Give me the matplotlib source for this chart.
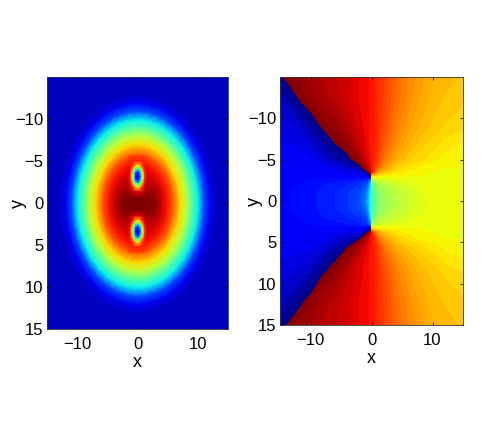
import numpy as np
import matplotlib
matplotlib.use("Agg")
import matplotlib.pyplot as plt

plt.rcParams['font.family'] = ['Liberation Sans', 'DejaVu Sans']

# left panel, density read along rays from the cloud centre (quarter turn 0..90 deg)
radii = [0, 1, 2, 3, 4, 5, 6, 7, 8, 9, 10, 11, 12, 13, 14, 24]
density_quarter = [
    [1.0, 1.0, 1.0, 1.0, 1.0, 1.0, 1.0, 1.0, 1.0, 1.0, 1.0, 1.0, 1.0],
    [1.0, 1.0, 1.0, 1.0, 1.0, 1.0, 1.0, 1.0, .995, .995, .99, .99, .99],
    [1.0, 1.0, 1.0, 1.0, .99, .985, .98, .975, .97, .965, .96, .955, .95],
    [.985, .985, .98, .975, .97, .96, .95, .945, .94, .94, .935, .93, .93],
    [.93, .93, .93, .93, .925, .925, .92, .92, .915, .915, .91, .91, .91],
    [.88, .88, .88, .88, .88, .88, .88, .88, .88, .88, .88, .88, .88],
    [.80, .80, .80, .80, .80, .80, .80, .80, .80, .80, .80, .80, .80],
    [.68, .68, .68, .68, .68, .68, .68, .68, .68, .68, .68, .68, .68],
    [.58, .58, .58, .58, .58, .58, .58, .58, .58, .58, .58, .58, .58],
    [.46, .46, .46, .46, .46, .46, .46, .46, .46, .46, .46, .46, .46],
    [.36, .36, .36, .36, .36, .36, .36, .36, .36, .36, .36, .36, .36],
    [.20, .20, .20, .20, .20, .20, .20, .20, .20, .20, .20, .20, .20],
    [.10, .10, .10, .10, .10, .10, .10, .10, .10, .10, .10, .10, .10],
    [.06, .06, .06, .06, .06, .06, .06, .06, .06, .06, .06, .06, .06],
    [.055, .055, .055, .055, .055, .055, .055, .055, .055, .055, .055, .055, .055],
    [.055, .055, .055, .055, .055, .055, .055, .055, .055, .055, .055, .055, .055],
]

# density hole around one vortex, outer side in the first row
core_dx = [-1.6, -1.2, -.9, -.6, -.35, 0, .35, .6, .9, 1.2, 1.6]
core_dy = [-2.4, -1.8, -1.25, -.85, -.5, 0, .5, .85, 1.25, 1.8, 2.4]
core_density = [
    [.82, .83, .84, .84, .84, .84, .84, .84, .84, .83, .82],
    [.86, .875, .88, .88, .875, .875, .875, .88, .88, .875, .86],
    [.895, .885, .87, .80, .69, .64, .69, .80, .87, .885, .895],
    [.905, .885, .79, .60, .47, .37, .47, .60, .79, .885, .905],
    [.92, .88, .70, .47, .27, .13, .27, .47, .70, .88, .92],
    [.93, .87, .64, .37, .13, .09, .13, .37, .64, .87, .93],
    [.945, .88, .70, .47, .27, .13, .27, .47, .70, .88, .945],
    [.95, .90, .79, .60, .47, .37, .47, .60, .79, .90, .95],
    [.97, .92, .88, .80, .69, .64, .69, .80, .88, .92, .97],
    [.98, .95, .93, .915, .905, .90, .905, .915, .93, .95, .98],
    [.99, .99, .99, .99, .99, .99, .99, .99, .99, .99, .99],
]
vortex_x = [0.03, 0.03]
vortex_y = [-3.15, 3.4]

# right panel, phase read on two halves; left half runs past 1 where the colours wrap
phase_y = [-15, -12, -9, -7, -5, -4, -3.5, -3, -2.5, -2, -1, 0, 1, 2, 2.8, 3.3, 3.8, 4.5, 5.5, 7, 9, 12, 15]
phase_x_left = [-15, -12, -10, -8, -6, -4, -2, -1, -.5, 0]
phase_left = [
    [1.003, .98, .965, .95, .94, .925, .905, .895, .89, .885],
    [1.06, 1.002, .98, .962, .947, .925, .905, .895, .89, .885],
    [1.085, 1.075, 1.025, .992, .977, .95, .915, .90, .89, .885],
    [1.095, 1.09, 1.075, 1.03, .997, .975, .93, .905, .89, .885],
    [1.105, 1.105, 1.10, 1.08, 1.043, 1.01, .97, .925, .90, .885],
    [1.11, 1.11, 1.105, 1.105, 1.09, 1.07, 1.01, .97, .925, .885],
    [1.11, 1.11, 1.11, 1.11, 1.105, 1.09, 1.08, 1.005, .97, .885],
    [1.115, 1.115, 1.115, 1.115, 1.115, 1.105, 1.11, 1.10, 1.04, 1.00],
    [1.115, 1.12, 1.125, 1.13, 1.135, 1.14, 1.15, 1.16, 1.17, 1.28],
    [1.12, 1.125, 1.13, 1.14, 1.145, 1.155, 1.17, 1.185, 1.22, 1.37],
    [1.12, 1.13, 1.135, 1.145, 1.155, 1.17, 1.19, 1.225, 1.28, 1.40],
    [1.12, 1.13, 1.135, 1.145, 1.155, 1.17, 1.195, 1.24, 1.31, 1.41],
    [1.12, 1.13, 1.135, 1.145, 1.155, 1.17, 1.19, 1.225, 1.28, 1.40],
    [1.12, 1.125, 1.13, 1.14, 1.145, 1.155, 1.17, 1.185, 1.22, 1.37],
    [1.115, 1.12, 1.125, 1.13, 1.135, 1.14, 1.15, 1.16, 1.17, 1.28],
    [1.115, 1.115, 1.115, 1.115, 1.115, 1.105, 1.11, 1.10, 1.05, 1.00],
    [1.11, 1.11, 1.11, 1.10, 1.10, 1.09, 1.08, 1.01, .97, .885],
    [1.11, 1.11, 1.105, 1.10, 1.08, 1.06, 1.00, .96, .905, .885],
    [1.105, 1.105, 1.10, 1.08, 1.045, 1.00, .96, .915, .895, .885],
    [1.095, 1.085, 1.08, 1.04, 1.003, .97, .92, .90, .89, .885],
    [1.085, 1.07, 1.035, .995, .975, .94, .91, .90, .89, .885],
    [1.06, 1.012, .985, .962, .945, .925, .905, .895, .89, .885],
    [1.01, .975, .965, .95, .94, .925, .905, .895, .89, .885],
]
phase_x_right = [0, .5, 1, 2, 4, 6, 8, 10, 12, 15]
phase_right = [
    [.885, .875, .865, .845, .80, .765, .74, .72, .71, .70],
    [.885, .875, .86, .84, .79, .755, .73, .71, .70, .69],
    [.885, .875, .86, .83, .775, .74, .715, .70, .685, .675],
    [.885, .87, .855, .815, .755, .72, .695, .68, .665, .655],
    [.885, .865, .84, .78, .725, .69, .675, .66, .65, .645],
    [.885, .84, .80, .74, .685, .665, .65, .645, .64, .64],
    [.885, .78, .74, .695, .665, .65, .645, .64, .64, .64],
    [.65, .65, .65, .645, .64, .64, .64, .64, .64, .64],
    [.48, .56, .58, .60, .615, .625, .635, .64, .64, .64],
    [.41, .50, .53, .565, .59, .61, .625, .635, .64, .64],
    [.41, .47, .50, .54, .575, .595, .62, .63, .635, .64],
    [.41, .46, .49, .53, .57, .59, .615, .63, .635, .64],
    [.41, .47, .50, .54, .575, .595, .62, .63, .635, .64],
    [.41, .50, .53, .565, .59, .61, .625, .635, .64, .64],
    [.48, .56, .58, .60, .615, .625, .635, .64, .64, .64],
    [.65, .65, .65, .645, .64, .64, .64, .64, .64, .64],
    [.885, .78, .74, .695, .665, .65, .645, .64, .64, .64],
    [.885, .84, .80, .74, .685, .665, .65, .645, .64, .64],
    [.885, .865, .84, .78, .725, .69, .675, .66, .65, .645],
    [.885, .87, .855, .815, .755, .72, .695, .68, .665, .655],
    [.885, .875, .86, .83, .775, .74, .715, .70, .685, .675],
    [.885, .875, .86, .84, .79, .755, .73, .71, .70, .69],
    [.885, .875, .865, .845, .80, .765, .74, .72, .71, .70],
]

x_ticks = [-10, 0, 10]
y_ticks = [-10, -5, 0, 5, 10, 15]


def style_axes(ax, ylabel_pad):
    ax.set_xlim(-15, 15)
    ax.set_ylim(15, -15)
    ax.set_xticks(x_ticks)
    ax.set_yticks(y_ticks)
    ax.tick_params(direction='in', top=True, right=True, length=2, width=0.5, labelsize=12)
    ax.tick_params(axis='x', pad=5.5)
    ax.tick_params(axis='y', pad=2.5)
    ax.set_xlabel('x', fontsize=13, labelpad=1.5)
    ax.set_ylabel('y', fontsize=13, labelpad=ylabel_pad)
    for s in ax.spines.values():
        s.set_linewidth(0.6)
        s.set_color('#333333')


fig = plt.figure(figsize=(4.91, 4.42), dpi=100)
W, H = 491.0, 442.0
ax1 = fig.add_axes([47 / W, 1 - 329 / H, 181 / W, 252 / H])
ax2 = fig.add_axes([280 / W, 1 - 325 / H, 183 / W, 248 / H])

# density: whole turn from the quarter table
q = np.array(density_quarter)
half = np.hstack([q, q[:, -2::-1]])
full = np.hstack([half, half[:, -2:0:-1], half[:, :1]])
angle = np.deg2rad(np.linspace(0, 360, full.shape[1]))
rr, aa = np.meshgrid(radii, angle, indexing='ij')
ax1.pcolormesh(0.05 + rr * np.cos(aa), 0.1 + rr * np.sin(aa), full, cmap='jet',
               vmin=0, vmax=1, shading='gouraud')
core = np.array(core_density)
for vx, vy, c in zip(vortex_x, vortex_y, [core, core[::-1]]):
    ax1.pcolormesh(vx + np.array(core_dx), vy + np.array(core_dy), c, cmap='jet',
                   vmin=0, vmax=1, shading='gouraud')
style_axes(ax1, -8.2)

# phase: stepped bands, values above 1 take the colours from the bottom of jet again
step = 1.0 / 64
levels = np.arange(0, 91) * step
mids = (levels[:-1] + levels[1:]) / 2
jet = matplotlib.colormaps['jet']
colors = [jet(m if m <= 1 else m - 1) for m in mids]
ax2.contourf(phase_x_left, phase_y, phase_left, levels=levels, colors=colors, antialiased=False)
ax2.contourf(phase_x_right, phase_y, phase_right, levels=levels, colors=colors, antialiased=False)
style_axes(ax2, -10.4)

fig.savefig('out.png', dpi=100)
